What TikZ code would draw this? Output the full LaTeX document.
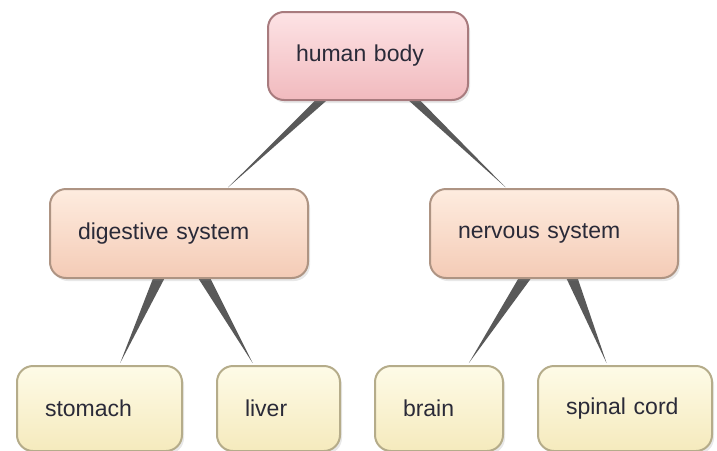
\documentclass[tikz,border=0pt]{standalone}
\usepackage{fontspec}
\setmainfont{Liberation Sans}
\usetikzlibrary{positioning, calc, backgrounds, shadows}

\definecolor{rootTop}{HTML}{FDE3E5}
\definecolor{rootBot}{HTML}{F1BABE}
\definecolor{rootLine}{HTML}{A87B7E}
\definecolor{midTop}{HTML}{FEECDF}
\definecolor{midBot}{HTML}{F4CBB6}
\definecolor{midLine}{HTML}{AE9483}
\definecolor{leafTop}{HTML}{FEFBE7}
\definecolor{leafBot}{HTML}{F5EABD}
\definecolor{leafLine}{HTML}{B5AC8A}
\definecolor{labelText}{HTML}{2A2A38}

\begin{document}
\begin{tikzpicture}[
    box/.style={rectangle, draw, line width=2pt, rounded corners=16pt,
                inner xsep=28pt, inner ysep=0pt, align=left,
                font=\fontsize{23}{26}\selectfont, text=labelText,
                drop shadow={shadow xshift=2pt, shadow yshift=-3pt, opacity=0.18}},
    rootbox/.style={box, draw=rootLine, top color=rootTop, bottom color=rootBot,
                    minimum height=88pt},
    midbox/.style={box, draw=midLine, top color=midTop, bottom color=midBot,
                   minimum height=89pt},
    leafbox/.style={box, draw=leafLine, top color=leafTop, bottom color=leafBot,
                    minimum height=85pt},
    wedge/.style={fill=black!65}
]
  \useasboundingbox (0,0) rectangle (717pt,-450pt);

  \node[rootbox, text width=144pt] (body) at (368pt,-56pt) {human body};
  \node[midbox, text width=202pt, below=87pt of body, xshift=-189pt] (dig) {digestive system};
  \node[midbox, text width=192pt, below=87pt of body, xshift=186pt] (nerv) {nervous system};
  \node[leafbox, text width=109pt, below=86pt of dig, xshift=-79.5pt] (stom) {stomach};
  \node[leafbox, text width=67pt, below=86pt of dig, xshift=99.5pt] (liver) {liver};
  \node[leafbox, text width=72pt, below=86pt of nerv, xshift=-115pt] (brain) {brain};
  \node[leafbox, text width=118pt, below=86pt of nerv, xshift=71pt] (spinal) {spinal cord};

  % tapered links, behind the boxes
  \begin{scope}[on background layer]
    \fill[wedge] ($(body)!6pt!90:(dig)$) -- ($(body)!6pt!-90:(dig)$) -- ($(body)!0.74!(dig)$) -- cycle;
    \fill[wedge] ($(body)!6pt!90:(nerv)$) -- ($(body)!6pt!-90:(nerv)$) -- ($(body)!0.74!(nerv)$) -- cycle;
    \fill[wedge] ($(dig)!8pt!90:(stom)$) -- ($(dig)!8pt!-90:(stom)$) -- ($(dig)!0.74!(stom)$) -- cycle;
    \fill[wedge] ($(dig)!8pt!90:(liver)$) -- ($(dig)!8pt!-90:(liver)$) -- ($(dig)!0.74!(liver)$) -- cycle;
    \fill[wedge] ($(nerv)!8pt!90:(brain)$) -- ($(nerv)!8pt!-90:(brain)$) -- ($(nerv)!0.74!(brain)$) -- cycle;
    \fill[wedge] ($(nerv)!8pt!90:(spinal)$) -- ($(nerv)!8pt!-90:(spinal)$) -- ($(nerv)!0.74!(spinal)$) -- cycle;
  \end{scope}
\end{tikzpicture}
\end{document}
